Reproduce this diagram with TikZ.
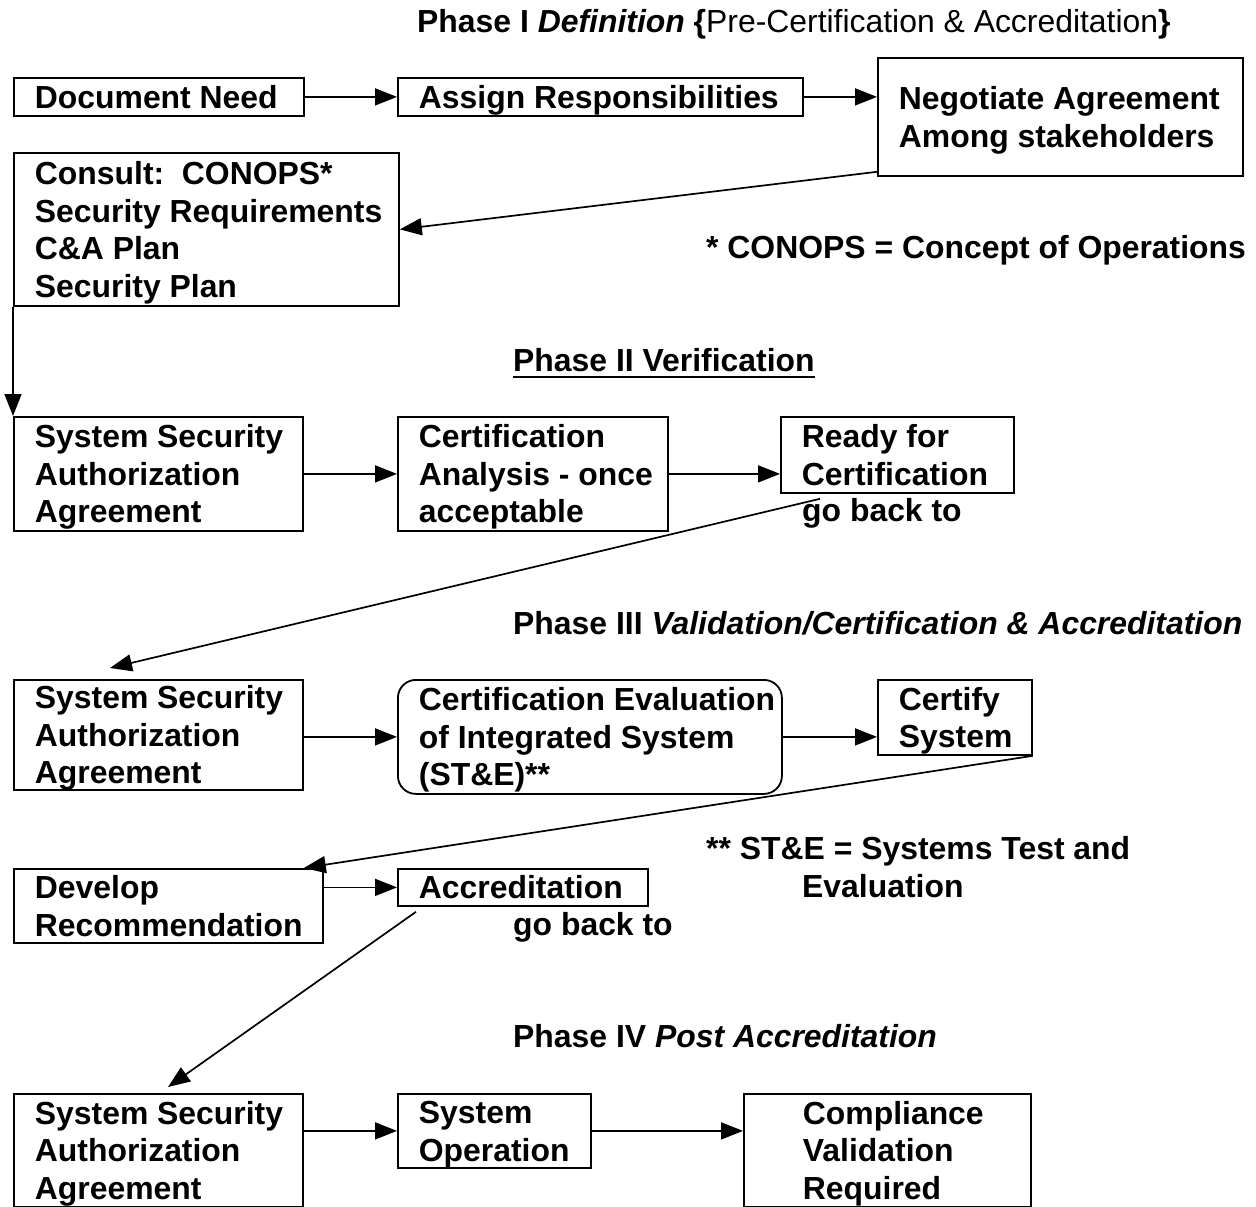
\documentclass[tikz,border=0pt]{standalone}
\usepackage{fontspec}
\setmainfont{Liberation Sans}
\usetikzlibrary{arrows.meta,calc}
\newcommand{\bx}[2]{\parbox{#1}{\raggedright\rule{0pt}{23pt}#2}}
\begin{document}
\begin{tikzpicture}[x=1pt,y=-1pt,
  every node/.style={font=\fontsize{31.9}{37.5}\selectfont\bfseries},
  box/.style={draw, line width=1.8pt, anchor=north west, inner xsep=21pt, inner ysep=0pt},
  lbl/.style={anchor=base west, inner sep=0pt},
  conn/.style={line width=1.7pt, -{Triangle[length=22pt,width=17pt]}}]
\useasboundingbox (0,0) rectangle (1256,1207);

% Phase I
\node[lbl] (t1) at (417,33) {Phase I \textit{Definition} \{\textmd{Pre-Certification \& Accreditation}\}};
\node[box, minimum width=290, minimum height=38] (docneed) at (13,77) {\bx{248pt}{\smash{Document Need}}};
\node[box, minimum width=405, minimum height=38] (assign) at (397,77) {\bx{363pt}{\smash{Assign Responsibilities}}};
\node[box, minimum width=365, minimum height=118] (negot) at (877,57) {\bx{323pt}{\smash{Negotiate Agreement}\\\smash{Among stakeholders}}};
\node[box, minimum width=385, minimum height=153] (consult) at (13,152) {\bx{343pt}{\smash{Consult:\ \ CONOPS*}\\\smash{Security Requirements}\\\smash{C\&A Plan}\\\smash{Security Plan}}};
\node[lbl] (note1) at (706,258) {* CONOPS = Concept of Operations};

% Phase II
\node[lbl] (t2) at (513,371) {Phase II Verification};
\draw[line width=2.2pt] ($(t2.base west)+(0,6)$) -- ($(t2.base east)+(0,6)$);
\node[box, minimum width=289, minimum height=114] (ssaa1) at (13,416) {\bx{247pt}{\smash{System Security}\\\smash{Authorization}\\\smash{Agreement}}};
\node[box, minimum width=270, minimum height=114] (certan) at (397,416) {\bx{228pt}{\smash{Certification}\\\smash{Analysis - once}\\\smash{acceptable}}};
\node[box, minimum width=233, minimum height=76] (ready) at (780,416) {\bx{191pt}{\smash{Ready for}\\\smash{Certification}}};
\node[lbl] (gb1) at (802,521) {go back to};

% Phase III
\node[lbl] (t3) at (513,634) {Phase III \textit{Validation/Certification \& Accreditation}};
\node[box, minimum width=289, minimum height=110] (ssaa2) at (13,679) {\bx{247pt}{\smash{System Security}\\\smash{Authorization}\\\smash{Agreement}}};
\node[box, rounded corners=18pt, minimum width=384, minimum height=114] (certeval) at (397,679) {\bx{342pt}{\smash{Certification Evaluation}\\\smash{of Integrated System}\\\smash{(ST\&E)**}}};
\node[box, minimum width=154, minimum height=75] (certify) at (877,679) {\bx{112pt}{\smash{Certify}\\\smash{System}}};
\node[lbl] (note2) at (706,859) {** ST\&E = Systems Test and};
\node[lbl] (note2b) at (802,897) {Evaluation};
\node[box, minimum width=309, minimum height=74] (develop) at (13,868) {\bx{267pt}{\smash{Develop}\\\smash{Recommendation}}};
\node[box, minimum width=250, minimum height=37] (accred) at (397,868) {\bx{208pt}{\smash{Accreditation}}};
\node[lbl] (gb2) at (513,935) {go back to};

% Phase IV
\node[lbl] (t4) at (513,1047) {Phase IV \textit{Post Accreditation}};
\node[box, minimum width=289, minimum height=113] (ssaa3) at (13,1093) {\bx{247pt}{\smash{System Security}\\\smash{Authorization}\\\smash{Agreement}}};
\node[box, minimum width=193, minimum height=74] (sysop) at (397,1093) {\bx{151pt}{\smash{System}\\\smash{Operation}}};
\node[box, minimum width=287, minimum height=113] (compl) at (743,1093) {\bx{245pt}{\smash{\hspace*{38pt}Compliance}\\\smash{\hspace*{38pt}Validation}\\\smash{\hspace*{38pt}Required}}};

% connectors
\draw[conn] (docneed) -- (assign);
\draw[conn] (assign.east) -- (assign.east -| negot.west);
\draw[conn] ($(negot.south west)+(0,-5)$) -- (consult.east);
\draw[conn] (consult.south west) -- (ssaa1.north west);
\draw[conn] (ssaa1) -- (certan);
\draw[conn] (certan.east) -- (certan.east -| ready.west);
\draw[conn] ($(ready.south west)+(40,5)$) -- ($(ssaa2.north west)+(97,-11)$);
\draw[conn] (certeval.west -| ssaa2.east) -- (certeval.west);
\draw[conn] (certeval.east) -- (certeval.east -| certify.west);
\draw[conn] (certify.south east) -- ($(develop.north east)+(-20,0)$);
\draw[conn] (accred.west -| develop.east) -- (accred.west);
\draw[conn] ($(accred.south west)+(19,5)$) -- ($(ssaa3.north west)+(155,-6)$);
\draw[conn] (sysop.west -| ssaa3.east) -- (sysop.west);
\draw[conn] (sysop.east) -- (sysop.east -| compl.west);
\end{tikzpicture}
\end{document}
